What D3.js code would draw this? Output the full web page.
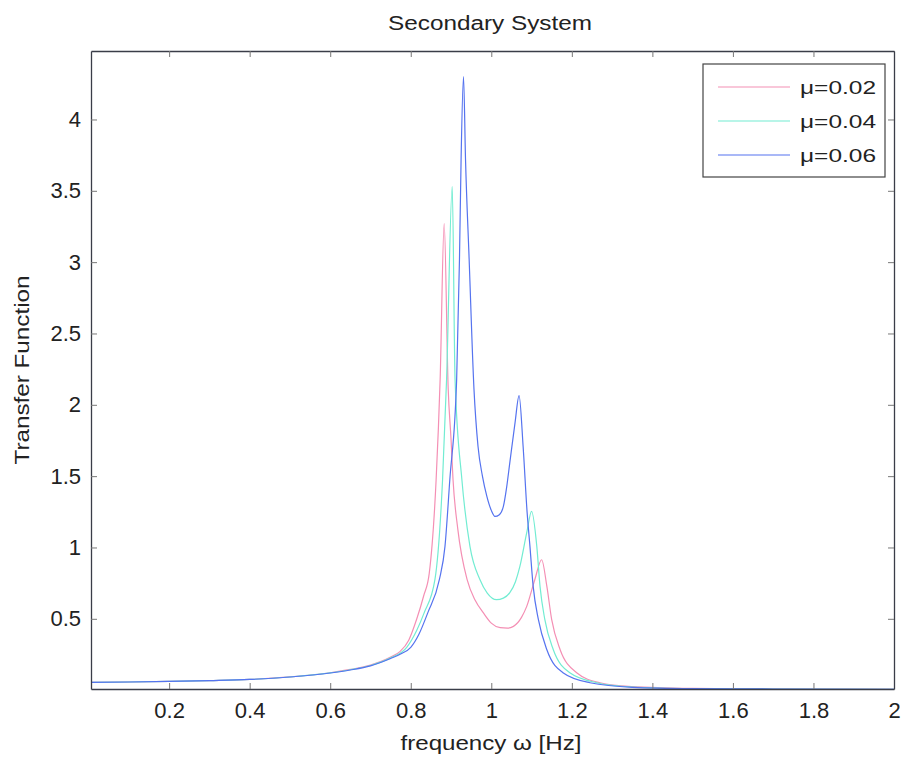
<!DOCTYPE html>
<html>
<head>
<meta charset="utf-8">
<script src="https://cdn.jsdelivr.net/npm/d3@7"></script>
<style>
  body { margin: 0; background: #fff; }
  text { font-family: "Liberation Sans", Arial, sans-serif; fill: #222; }
</style>
</head>
<body>
<svg id="chart" width="905" height="757"></svg>
<script>
// values
var freq02 = [0.006, 0.1, 0.2, 0.3, 0.4, 0.5, 0.6, 0.65, 0.7, 0.75, 0.773, 0.795, 0.815, 0.832, 0.846, 0.863, 0.873, 0.883,
  0.893, 0.9, 0.905, 0.917, 0.94, 0.96, 0.98, 1.0, 1.022, 1.04, 1.055, 1.075, 1.088, 1.108, 1.125, 1.138, 1.15, 1.171, 1.212, 1.27, 1.35, 1.5, 1.7, 2];
var tf02 = [0.054, 0.057, 0.061, 0.067, 0.075, 0.093, 0.122, 0.145, 0.176, 0.232, 0.27, 0.35, 0.5, 0.66, 0.82, 1.475, 2.18, 3.27,
  2.11, 1.76, 1.475, 1.125, 0.774, 0.63, 0.543, 0.47, 0.438, 0.435, 0.447, 0.51, 0.587, 0.774, 0.914, 0.727, 0.494, 0.283, 0.122, 0.052, 0.025, 0.012, 0.008, 0.006];

var freq04 = [0.006, 0.1, 0.2, 0.3, 0.4, 0.5, 0.6, 0.65, 0.7, 0.75, 0.79, 0.815, 0.833, 0.86, 0.879, 0.889, 0.903,
  0.91, 0.927, 0.947, 0.972, 0.99, 1.013, 1.03, 1.046, 1.06, 1.071, 1.088, 1.1, 1.113, 1.121, 1.133, 1.154, 1.195, 1.262, 1.35, 1.5, 1.7, 2];
var tf04 = [0.054, 0.057, 0.061, 0.067, 0.075, 0.092, 0.121, 0.143, 0.173, 0.226, 0.3, 0.42, 0.54, 0.774, 1.475, 2.18, 3.53,
  2.18, 1.475, 1.008, 0.774, 0.68, 0.634, 0.645, 0.683, 0.76, 0.867, 1.104, 1.253, 1.008, 0.727, 0.494, 0.283, 0.122, 0.052, 0.022, 0.011, 0.008, 0.006];

var freq06 = [0.006, 0.1, 0.2, 0.3, 0.4, 0.5, 0.6, 0.65, 0.7, 0.75, 0.776, 0.8, 0.82, 0.842, 0.871, 0.885, 0.897, 0.914, 0.921, 0.925, 0.931,
  0.936, 0.945, 0.957, 0.967, 0.978, 0.989, 1.0, 1.009, 1.02, 1.03, 1.038, 1.046, 1.059, 1.069, 1.079, 1.089, 1.096, 1.104, 1.117, 1.138, 1.178, 1.245, 1.35, 1.5, 1.7, 2];
var tf06 = [0.054, 0.057, 0.061, 0.067, 0.075, 0.092, 0.12, 0.141, 0.17, 0.222, 0.255, 0.3, 0.39, 0.54, 0.774, 1.008, 1.475, 2.18, 3.02, 3.72, 4.30,
  3.72, 3.02, 2.11, 1.71, 1.5, 1.358, 1.26, 1.218, 1.23, 1.288, 1.42, 1.595, 1.875, 2.065, 1.709, 1.244, 1.008, 0.727, 0.494, 0.283, 0.122, 0.052, 0.02, 0.011, 0.008, 0.006];

var legendLabels = ["μ=0.02", "μ=0.04", "μ=0.06"];
var xTicks = [0.2, 0.4, 0.6, 0.8, 1, 1.2, 1.4, 1.6, 1.8, 2];
var yTicks = [0.5, 1, 1.5, 2, 2.5, 3, 3.5, 4];
var colors = ["#f48fb4", "#72ecd2", "#5573ef"];

var series = [
  { label: legendLabels[0], pts: freq02.map(function(f, i){ return [f, tf02[i]]; }) },
  { label: legendLabels[1], pts: freq04.map(function(f, i){ return [f, tf04[i]]; }) },
  { label: legendLabels[2], pts: freq06.map(function(f, i){ return [f, tf06[i]]; }) }
];

// plot box edges (window.top is taken, so use a small object)
var box = { left: 91, right: 894, top: 51, bottom: 689 };
var svg = d3.select("#chart");

var x = d3.scaleLinear().domain([0.006, 2]).range([box.left, box.right]);
var y = d3.scaleLinear().domain([0.008, 4.48]).range([box.bottom, box.top]);
var fmt = function(d){ return String(+d.toFixed(1)); };

// curves
var line = d3.line()
  .x(function(d){ return x(d[0]); })
  .y(function(d){ return y(d[1]); })
  .curve(d3.curveMonotoneX);
svg.append("g").selectAll("path")
  .data(series)
  .join("path")
    .attr("d", function(d){ return line(d.pts); })
    .attr("fill", "none")
    .attr("stroke", function(d, i){ return colors[i]; })
    .attr("stroke-width", 1.2)
    .attr("stroke-linejoin", "round");

// axes, ticks pointing inward like matlab
var gx = svg.append("g").attr("transform", "translate(0," + box.bottom + ")")
  .call(d3.axisBottom(x).tickValues(xTicks).tickFormat(fmt).tickSize(-6).tickSizeOuter(0).tickPadding(13));
var gy = svg.append("g").attr("transform", "translate(" + box.left + ",0)")
  .call(d3.axisLeft(y).tickValues(yTicks).tickFormat(fmt).tickSize(-6).tickSizeOuter(0).tickPadding(10));
var gt = svg.append("g").attr("transform", "translate(0," + box.top + ")")
  .call(d3.axisTop(x).tickValues(xTicks).tickFormat("").tickSize(-6).tickSizeOuter(0));
var gr = svg.append("g").attr("transform", "translate(" + box.right + ",0)")
  .call(d3.axisRight(y).tickValues(yTicks).tickFormat("").tickSize(-6).tickSizeOuter(0));

[gx, gy, gt, gr].forEach(function(g){
  g.select(".domain").attr("stroke", "#3a3d48").attr("stroke-width", 1.3);
  g.selectAll(".tick line").attr("stroke", "#777");
  g.selectAll(".tick text").attr("font-size", 22).attr("fill", "#2a2a2a")
    .attr("font-family", "Liberation Sans, Arial, sans-serif");
});

// titles
svg.append("text")
  .attr("x", 490).attr("y", 30)
  .attr("text-anchor", "middle")
  .attr("font-size", 20)
  .attr("textLength", 204).attr("lengthAdjust", "spacingAndGlyphs")
  .text("Secondary System");

svg.append("text")
  .attr("x", 491).attr("y", 750)
  .attr("text-anchor", "middle")
  .attr("font-size", 20)
  .attr("textLength", 181).attr("lengthAdjust", "spacingAndGlyphs")
  .text("frequency ω [Hz]");

svg.append("text")
  .attr("transform", "translate(29,370) rotate(-90)")
  .attr("text-anchor", "middle")
  .attr("font-size", 20)
  .attr("textLength", 189).attr("lengthAdjust", "spacingAndGlyphs")
  .text("Transfer Function");

// legend
var leg = svg.append("g").attr("transform", "translate(703,64)");
leg.append("rect")
  .attr("width", 182).attr("height", 113)
  .attr("fill", "#fff").attr("stroke", "#444").attr("stroke-width", 1.2);
var rows = leg.selectAll("g.row")
  .data(series)
  .join("g")
    .attr("class", "row")
    .attr("transform", function(d, i){ return "translate(0," + (23 + i * 34) + ")"; });
rows.append("line")
  .attr("x1", 15).attr("x2", 87)
  .attr("stroke", function(d, i){ return colors[i]; })
  .attr("stroke-width", 1.2);
rows.append("text")
  .attr("x", 97).attr("dy", "0.36em")
  .attr("font-size", 19)
  .attr("textLength", 76).attr("lengthAdjust", "spacingAndGlyphs")
  .text(function(d){ return d.label; });
</script>
</body>
</html>
